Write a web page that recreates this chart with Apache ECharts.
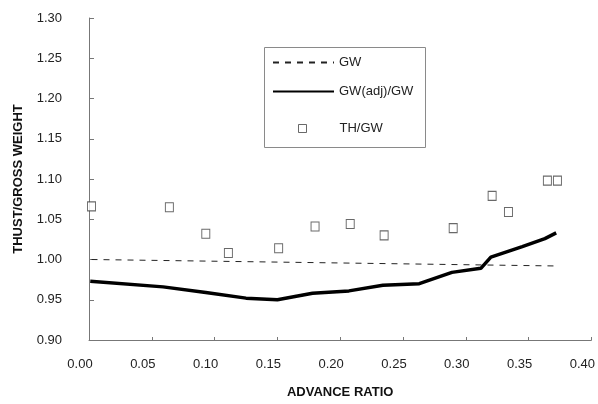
<!DOCTYPE html>
<html>
<head>
<meta charset="utf-8">
<title>Thrust / gross weight</title>
<script src="https://cdn.jsdelivr.net/npm/echarts@6/dist/echarts.min.js"></script>
<style>
  html, body { margin: 0; padding: 0; background: #fff; }
  #chart_container { width: 598px; height: 404px; }
</style>
</head>
<body>
<div id="chart_container"></div>
<script>
// GW 基准线 (虚线)
const gwX = [0.002, 0.37]
const gwY = [1.000, 0.992]

// GW(adj)/GW (粗实线)
const adjX = [0.001, 0.059, 0.093, 0.125, 0.150, 0.178, 0.207, 0.234, 0.263, 0.289, 0.312, 0.320, 0.345, 0.363, 0.372]
const adjY = [0.973, 0.966, 0.959, 0.952, 0.950, 0.958, 0.961, 0.968, 0.970, 0.984, 0.989, 1.003, 1.016, 1.026, 1.033]

// TH/GW (方块)
const thX = [0.002, 0.064, 0.093, 0.111, 0.151, 0.180, 0.208, 0.235, 0.290, 0.321, 0.334, 0.365, 0.373]
const thY = [1.066, 1.065, 1.032, 1.008, 1.014, 1.041, 1.044, 1.030, 1.039, 1.079, 1.059, 1.098, 1.098]

const seriesNames = ['GW', 'GW(adj)/GW', 'TH/GW']
const xTitle = 'ADVANCE RATIO'
const yTitle = 'THUST/GROSS WEIGHT'

const zip = (xs, ys) => xs.map((x, i) => [x, ys[i]])
const font = 'Liberation Sans, Arial, sans-serif'

const charts = echarts.init(document.getElementById('chart_container'))
charts.setOption({
  animation: false,
  backgroundColor: '#fff',
  textStyle: { fontFamily: font },
  grid: {
    left: 89,
    right: 5,
    top: 18,
    bottom: 60
  },
  // 图例外框
  graphic: [{
    type: 'rect',
    left: 262,
    top: 45,
    z: 0,
    shape: { width: 161, height: 100 },
    style: { fill: 'none', stroke: '#8a8a8a', lineWidth: 1 }
  }],
  legend: [
    {
      data: [seriesNames[0], seriesNames[1]],
      orient: 'vertical',
      left: 267,
      top: 51,
      itemWidth: 61,
      itemHeight: 14,
      itemGap: 16,
      itemStyle: { opacity: 0 }, // 只显示线, 不显示圆点
      textStyle: { color: '#222', fontSize: 13, fontFamily: font }
    },
    {
      data: [seriesNames[2]],
      orient: 'vertical',
      left: 293,
      top: 117,
      itemWidth: 8,
      itemHeight: 8,
      itemStyle: { color: '#fff', borderColor: '#444', borderWidth: 1 },
      textStyle: { color: '#222', fontSize: 13, fontFamily: font, padding: [0, 0, 0, 28] }
    }
  ],
  xAxis: {
    type: 'value',
    min: 0,
    max: 0.4,
    interval: 0.05,
    name: xTitle,
    nameLocation: 'middle',
    nameGap: 46,
    nameTextStyle: { color: '#111', fontSize: 13, fontWeight: 'bold', fontFamily: font },
    splitLine: { show: false },
    axisLine: { lineStyle: { color: '#777', width: 1 } },
    axisTick: { inside: true, length: 3, lineStyle: { color: '#777' } },
    axisLabel: {
      color: '#222',
      fontSize: 13,
      fontFamily: font,
      margin: 18,
      padding: [0, 18, 0, 0], // 刻度文字整体偏左
      formatter: function (value) {
        return value.toFixed(2)
      }
    }
  },
  yAxis: {
    type: 'value',
    min: 0.9,
    max: 1.3,
    interval: 0.05,
    name: yTitle,
    nameLocation: 'middle',
    nameGap: 64,
    nameTextStyle: { color: '#111', fontSize: 13, fontWeight: 'bold', fontFamily: font },
    splitLine: { show: false },
    axisLine: { show: true, lineStyle: { color: '#777', width: 1 } },
    axisTick: { inside: true, length: 5, lineStyle: { color: '#777' } },
    axisLabel: {
      color: '#222',
      fontSize: 13,
      fontFamily: font,
      margin: 27,
      formatter: function (value) {
        return value.toFixed(2)
      }
    }
  },
  series: [
    {
      name: seriesNames[0],
      type: 'line',
      symbol: 'none',
      data: zip(gwX, gwY),
      lineStyle: { color: '#222', width: 1, type: [6, 6] },
      itemStyle: { color: '#222' }
    },
    {
      name: seriesNames[1],
      type: 'line',
      symbol: 'none',
      data: zip(adjX, adjY),
      lineStyle: { color: '#000', width: 3.5 },
      itemStyle: { color: '#000' }
    },
    {
      name: seriesNames[2],
      type: 'scatter',
      symbol: 'rect',
      symbolSize: [8, 9],
      data: zip(thX, thY),
      itemStyle: { color: '#fff', borderColor: '#444', borderWidth: 1 }
    }
  ]
})
</script>
</body>
</html>
